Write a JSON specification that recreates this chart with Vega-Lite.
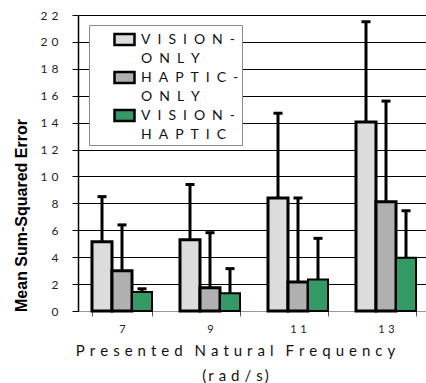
{
  "$schema": "https://vega.github.io/schema/vega-lite/v6.json",
  "width": 352,
  "height": 296,
  "autosize": {"type": "none"},
  "padding": {"left": 78, "top": 15, "right": 0, "bottom": 72},
  "background": "white",
  "config": {
    "view": {"stroke": null},
    "font": "Lato",
    "style": {"guide-label": {"lineHeight": 19.5}},
    "axisY": {
      "tickCount": 11,
      "grid": true,
      "gridColor": "#000000",
      "gridOpacity": 1,
      "gridWidth": 1,
      "domainColor": "black",
      "domainWidth": 1.5,
      "tickColor": "black",
      "tickSize": 6,
      "labelPadding": 14,
      "labelFontSize": 12,
      "labelColor": "#222222",
      "titleFont": "Liberation Sans",
      "titleFontSize": 16,
      "titleFontWeight": "bold",
      "titleColor": "black",
      "titlePadding": 11,
      "titleY": 200
    }
  },
  "data": {
    "values": [
      {"freq": "7", "cond": "VISION-ONLY", "mean": 5.15, "upper": 8.5},
      {"freq": "7", "cond": "HAPTIC-ONLY", "mean": 3.0, "upper": 6.4},
      {"freq": "7", "cond": "VISION-HAPTIC", "mean": 1.42, "upper": 1.65},
      {"freq": "9", "cond": "VISION-ONLY", "mean": 5.3, "upper": 9.4},
      {"freq": "9", "cond": "HAPTIC-ONLY", "mean": 1.72, "upper": 5.82},
      {"freq": "9", "cond": "VISION-HAPTIC", "mean": 1.32, "upper": 3.15},
      {"freq": "11", "cond": "VISION-ONLY", "mean": 8.4, "upper": 14.7},
      {"freq": "11", "cond": "HAPTIC-ONLY", "mean": 2.16, "upper": 8.4},
      {"freq": "11", "cond": "VISION-HAPTIC", "mean": 2.34, "upper": 5.4},
      {"freq": "13", "cond": "VISION-ONLY", "mean": 14.05, "upper": 21.5},
      {"freq": "13", "cond": "HAPTIC-ONLY", "mean": 8.12, "upper": 15.6},
      {"freq": "13", "cond": "VISION-HAPTIC", "mean": 3.96, "upper": 7.45}
    ]
  },
  "encoding": {
    "x": {
      "field": "freq",
      "type": "nominal",
      "sort": ["7", "9", "11", "13"],
      "scale": {"paddingInner": 0.318, "paddingOuter": 0.159},
      "axis": {
        "labelExpr": "length(datum.label) == 2 ? substring(datum.label, 0, 1) + '\u2004' + substring(datum.label, 1) : datum.label",
        "tickBand": "extent",
        "domainColor": "#9a9a9a",
        "tickColor": "#555555",
        "tickSize": 5,
        "labelAngle": 0,
        "labelFontSize": 11,
        "labelColor": "#222222",
        "labelPadding": 7,
        "title": ["P\u2004r\u2004e\u2004s\u2004e\u2004n\u2004t\u2004e\u2004d\u2004\u2009\u2004N\u2004a\u2004t\u2004u\u2004r\u2004a\u2004l\u2004\u2009\u2004F\u2004r\u2004e\u2004q\u2004u\u2004e\u2004n\u2004c\u2004y", "(\u2009r\u2004a\u2004d\u2004/\u2004s\u2009)"],
        "titleFontSize": 15,
        "titleFontWeight": "normal",
        "titleColor": "#111111",
        "titleLineHeight": 25,
        "titlePadding": 9,
        "titleX": 157
      }
    },
    "xOffset": {
      "field": "cond",
      "type": "nominal",
      "sort": ["VISION-ONLY", "HAPTIC-ONLY", "VISION-HAPTIC"],
      "scale": {"paddingInner": 0, "paddingOuter": 0}
    }
  },
  "layer": [
    {
      "mark": {"type": "bar", "stroke": "black"},
      "encoding": {
        "y": {
          "field": "mean",
          "type": "quantitative",
          "title": "Mean Sum-Squared Error",
          "scale": {"domain": [0, 22]},
          "axis": {"labelExpr": "length(datum.label) == 2 ? substring(datum.label, 0, 1) + '\u2004' + substring(datum.label, 1) : datum.label"}
        },
        "color": {
          "field": "cond",
          "type": "nominal",
          "sort": ["VISION-ONLY", "HAPTIC-ONLY", "VISION-HAPTIC"],
          "scale": {"range": ["#dcdcdc", "#b0b0b0", "#339966"]},
          "legend": {
            "orient": "none",
            "legendX": 11,
            "legendY": 10,
            "title": null,
            "fillColor": "white",
            "strokeColor": "#8a8a8a",
            "padding": 3,
            "symbolType": "M-1,-0.55H1V0.55H-1Z",
            "symbolSize": 400,
            "symbolStrokeColor": "black",
            "symbolStrokeWidth": 2.5,
            "symbolOffset": 21,
            "labelFont": "Lato",
            "labelFontSize": 14,
            "labelColor": "#111111",
            "labelOffset": 5,
            "labelLimit": 300,
            "rowPadding": 0,
            "labelExpr": "datum.label == 'VISION-ONLY' ? ['V\u2002I\u2002S\u2002I\u2002O\u2002N\u2002-', 'O\u2002N\u2002L\u2002Y'] : datum.label == 'HAPTIC-ONLY' ? ['H\u2002A\u2002P\u2002T\u2002I\u2002C\u2002-', 'O\u2002N\u2002L\u2002Y'] : ['V\u2002I\u2002S\u2002I\u2002O\u2002N\u2002-', 'H\u2002A\u2002P\u2002T\u2002I\u2002C']"
          }
        },
        "strokeWidth": {"condition": {"test": "datum.cond === 'VISION-HAPTIC'", "value": 2}, "value": 3}
      }
    },
    {
      "mark": {"type": "rule", "strokeWidth": 3, "color": "black"},
      "encoding": {
        "y": {
          "field": "mean",
          "type": "quantitative",
          "title": "Mean Sum-Squared Error",
          "axis": {"labelExpr": "length(datum.label) == 2 ? substring(datum.label, 0, 1) + '\u2004' + substring(datum.label, 1) : datum.label"}
        },
        "y2": {"field": "upper"}
      }
    },
    {
      "mark": {"type": "tick", "color": "black", "thickness": 3, "size": 9, "opacity": 1},
      "encoding": {
        "y": {
          "field": "upper",
          "type": "quantitative",
          "title": "Mean Sum-Squared Error",
          "axis": {"labelExpr": "length(datum.label) == 2 ? substring(datum.label, 0, 1) + '\u2004' + substring(datum.label, 1) : datum.label"}
        }
      }
    }
  ]
}
